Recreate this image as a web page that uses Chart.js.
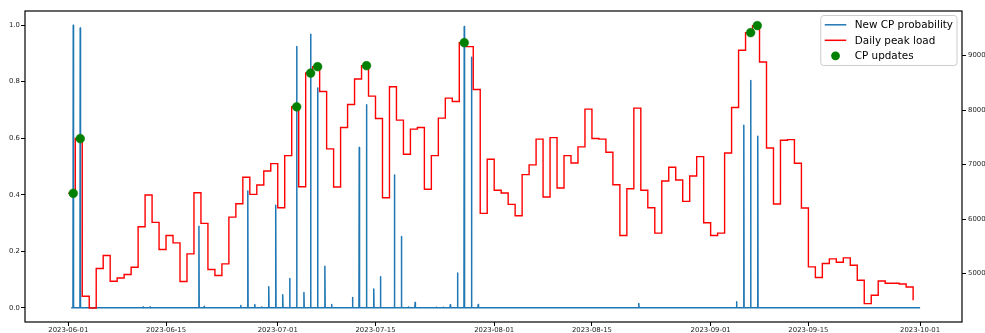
<!DOCTYPE html>
<html>
<head>
<meta charset="utf-8">
<title>CP probability and daily peak load</title>
<script src="https://cdn.jsdelivr.net/npm/chart.js@4.4.1/dist/chart.umd.min.js"></script>
<style>
  html, body { margin: 0; padding: 0; background: #ffffff; }
  #wrap { width: 985px; height: 333px; }
</style>
</head>
<body>
<div id="wrap"><canvas id="chart" width="985" height="333"></canvas></div>
<script>
// ---- Data (x values are days since 2023-06-01 00:00) ----

// x-axis ticks
const tickDays   = [0, 14, 30, 44, 61, 75, 92, 106, 122];
const tickLabels = ['2023-06-01', '2023-06-15', '2023-07-01', '2023-07-15', '2023-08-01',
                    '2023-08-15', '2023-09-01', '2023-09-15', '2023-10-01'];

// left / right axis ticks
const probTicks = [0, 0.2, 0.4, 0.6, 0.8, 1.0];
const loadTicks = [5000, 6000, 7000, 8000, 9000];

// Daily peak load, one value per day starting 2023-06-01 (last entry: 2023-09-30, partial day)
const peakLoad = [
  6473, 7478, 4582, 4367, 5092, 5331, 4858, 4919, 4982, 5116,
  5858, 6441, 5939, 5442, 5699, 5563, 4853, 5361, 6484, 5920,
  5074, 4963, 5177, 6036, 6282, 6767, 6454, 6625, 6883, 7018,
  6208, 7165, 8061, 6594, 8681, 8798, 8343, 7288, 6589, 7680,
  8104, 8571, 8816, 8258, 7846, 6392, 8429, 7816, 7190, 7651,
  7680, 6546, 7165, 7853, 8221, 8159, 9239, 9166, 8380, 6104,
  7098, 6528, 6478, 6270, 6060, 6815, 6994, 7467, 6404, 7496,
  6570, 7165, 7030, 7325, 8019, 7478, 7467, 7227, 6631, 5699,
  6557, 8037, 6528, 6208, 5742, 6699, 6951, 6717, 6325, 6791,
  7146, 5931, 5699, 5742, 7214, 8048, 9098, 9423, 9552, 8884,
  7306, 6276, 7448, 7459, 7025, 6202, 5122, 4926, 5184, 5269,
  5208, 5287, 5153, 4877, 4448, 4600, 4864, 4821, 4821, 4809,
  4753, 4508
];

// Hourly "new CP" probability: zero except at these hours (time in days, probability)
const probSpikeDay = [
  0.71, 1.71, 10.71, 11.71, 18.71, 19.46, 24.71, 25.71, 26.71, 27.71,
  28.71, 29.71, 30.71, 31.71, 32.71, 33.75, 34.71, 35.71, 36.75, 37.71,
  40.71, 41.67, 42.71, 43.75, 44.71, 46.71, 47.71, 48.71, 49.67, 52.71,
  53.71, 54.71, 55.75, 56.71, 57.75, 58.71, 81.71, 95.71, 96.75, 97.73,
  98.75
];
const probSpikeValue = [
  1.000, 0.990, 0.003, 0.003, 0.289, 0.005, 0.008, 0.413, 0.012, 0.003,
  0.075, 0.363, 0.046, 0.104, 0.924, 0.054, 0.968, 0.778, 0.147, 0.012,
  0.037, 0.567, 0.718, 0.067, 0.110, 0.470, 0.252, 0.003, 0.019, 0.002,
  0.002, 0.011, 0.123, 0.995, 0.886, 0.012, 0.015, 0.022, 0.646, 0.804,
  0.607
];
const probStartDay = 0.42;
const probEndDay = 122;

// Times at which the CP estimate was updated (load taken from that day's peak)
const cpUpdateDay  = [0.71, 1.71, 32.71, 34.71, 35.71, 42.71, 56.71, 97.73, 98.68];
const cpUpdateLoad = [6473, 7478, 8061, 8681, 8798, 8816, 9239, 9423, 9552];

// ---- Build series for Chart.js ----
const HOUR = 1 / 24;

const probPoints = [{ x: probStartDay, y: 0 }];
probSpikeDay.forEach((t, i) => {
  probPoints.push({ x: t - HOUR, y: 0 });
  probPoints.push({ x: t, y: probSpikeValue[i] });
  probPoints.push({ x: t + HOUR, y: 0 });
});
probPoints.push({ x: probEndDay, y: 0 });

// each day's peak held from midnight to midnight; the final partial day is a single sample
const loadPoints = [];
for (let d = 0; d < peakLoad.length - 1; d++) {
  loadPoints.push({ x: d, y: peakLoad[d] });
  loadPoints.push({ x: d + 1, y: peakLoad[d] });
}
loadPoints.push({ x: peakLoad.length - 1, y: peakLoad[peakLoad.length - 1] });

const cpPoints = cpUpdateDay.map((t, i) => ({ x: t, y: cpUpdateLoad[i] }));

// ---- Styling ----
const BLUE = '#1f77b4';
const RED = '#ff0000';
const GREEN = '#008000';
const TICK_FONT = { family: '"DejaVu Sans", sans-serif', size: 6.9 };
const TICK_COLOR = '#262626';

const axisGrid = {
  display: true,
  drawOnChartArea: false,
  drawTicks: true,
  tickLength: 4,
  tickColor: '#000000',
  tickWidth: 1,
  color: 'rgba(0,0,0,0)'
};

// frame around the plot area (all four spines)
const framePlugin = {
  id: 'frame',
  afterDatasetsDraw(chart) {
    const { ctx, chartArea: a } = chart;
    ctx.save();
    ctx.strokeStyle = '#000000';
    ctx.lineWidth = 1.2;
    ctx.strokeRect(a.left, a.top, a.right - a.left, a.bottom - a.top);
    ctx.restore();
  }
};

// legend box in the upper right corner of the plot
const legendItems = [
  { label: 'New CP probability', kind: 'line', color: BLUE },
  { label: 'Daily peak load', kind: 'line', color: RED },
  { label: 'CP updates', kind: 'dot', color: GREEN }
];
const cornerLegend = {
  id: 'cornerLegend',
  afterDraw(chart) {
    const { ctx, chartArea: a } = chart;
    const font = '10.4px "DejaVu Sans", sans-serif';
    ctx.save();
    ctx.font = font;
    let textW = 0;
    legendItems.forEach(it => { textW = Math.max(textW, ctx.measureText(it.label).width); });
    const rowH = 15.5, pad = 4, handleW = 21.5, gap = 8.5;
    const boxW = pad + handleW + gap + textW + 4;
    const boxH = legendItems.length * rowH + 3.5;
    const x0 = a.right - 5 - boxW;
    const y0 = a.top + 4.5;
    ctx.beginPath();
    ctx.roundRect(x0, y0, boxW, boxH, 3);
    ctx.fillStyle = 'rgba(255,255,255,0.8)';
    ctx.fill();
    ctx.strokeStyle = '#cccccc';
    ctx.lineWidth = 1;
    ctx.stroke();
    legendItems.forEach((it, i) => {
      const cy = y0 + 9.3 + i * rowH;
      const hx = x0 + pad;
      if (it.kind === 'line') {
        ctx.beginPath();
        ctx.moveTo(hx, cy);
        ctx.lineTo(hx + handleW, cy);
        ctx.strokeStyle = it.color;
        ctx.lineWidth = 1.5;
        ctx.stroke();
      } else {
        ctx.beginPath();
        ctx.arc(hx + handleW / 2, cy, 4.4, 0, Math.PI * 2);
        ctx.fillStyle = it.color;
        ctx.fill();
      }
      ctx.fillStyle = '#000000';
      ctx.textBaseline = 'middle';
      ctx.textAlign = 'left';
      ctx.fillText(it.label, hx + handleW + gap, cy + 0.5);
    });
    ctx.restore();
  }
};

new Chart(document.getElementById('chart'), {
  type: 'line',
  data: {
    datasets: [
      {
        label: 'CP updates',
        type: 'scatter',
        data: cpPoints,
        yAxisID: 'yR',
        backgroundColor: GREEN,
        borderColor: GREEN,
        borderWidth: 0.5,
        pointRadius: 4.4,
        showLine: false,
        order: 0
      },
      {
        label: 'Daily peak load',
        data: loadPoints,
        yAxisID: 'yR',
        borderColor: RED,
        borderWidth: 1.4,
        pointRadius: 0,
        tension: 0,
        fill: false,
        order: 1
      },
      {
        label: 'New CP probability',
        data: probPoints,
        yAxisID: 'yL',
        borderColor: BLUE,
        borderWidth: 1.5,
        borderJoinStyle: 'round',
        pointRadius: 0,
        tension: 0,
        fill: false,
        order: 2
      }
    ]
  },
  options: {
    responsive: false,
    animation: false,
    devicePixelRatio: 1,
    layout: { padding: { top: 11, left: 0, right: 0, bottom: 0 } },
    plugins: {
      legend: { display: false },
      tooltip: { enabled: false }
    },
    scales: {
      x: {
        type: 'linear',
        position: 'bottom',
        min: -6.2,
        max: 128.0,
        grid: axisGrid,
        border: { display: false },
        afterBuildTicks: (axis) => { axis.ticks = tickDays.map(v => ({ value: v })); },
        afterFit: (axis) => { axis.height = 11; },
        ticks: {
          autoSkip: false,
          maxRotation: 0,
          minRotation: 0,
          padding: 0,
          font: TICK_FONT,
          color: TICK_COLOR,
          callback: (value, index) => tickLabels[index]
        }
      },
      yL: {
        type: 'linear',
        position: 'left',
        min: -0.05,
        max: 1.05,
        grid: axisGrid,
        border: { display: false },
        afterBuildTicks: (axis) => { axis.ticks = probTicks.map(v => ({ value: v })); },
        afterFit: (axis) => { axis.width = 25; },
        ticks: {
          padding: 1,
          font: TICK_FONT,
          color: TICK_COLOR,
          callback: (value) => Number(value).toFixed(1)
        }
      },
      yR: {
        type: 'linear',
        position: 'right',
        min: 4110,
        max: 9820,
        grid: axisGrid,
        border: { display: false },
        afterBuildTicks: (axis) => { axis.ticks = loadTicks.map(v => ({ value: v })); },
        afterFit: (axis) => { axis.width = 23; },
        ticks: {
          padding: 2,
          font: TICK_FONT,
          color: TICK_COLOR,
          callback: (value) => String(value)
        }
      }
    }
  },
  plugins: [framePlugin, cornerLegend]
});
</script>
</body>
</html>
